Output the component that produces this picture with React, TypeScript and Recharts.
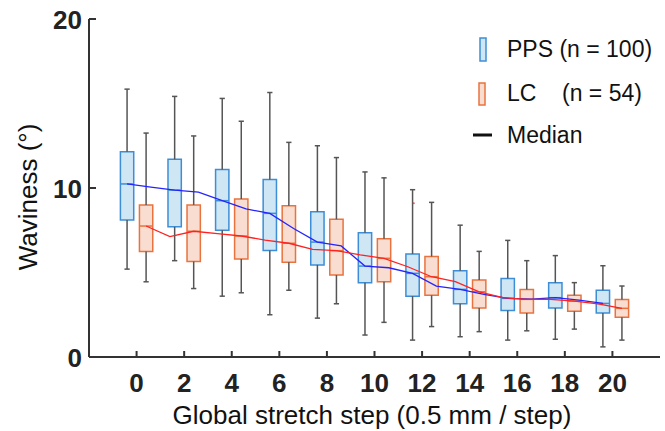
import React from 'react'
import {
  ComposedChart,
  Line,
  Scatter,
  XAxis,
  YAxis,
  ReferenceArea,
  ReferenceLine,
  Legend
} from 'recharts'

const steps = [0, 2, 4, 6, 8, 10, 12, 14, 16, 18, 20]
const yTicks = [0, 10, 20]

// PPS (n = 100) box stats
const ppsMin = [5.2, 5.7, 3.6, 2.5, 2.3, 1.3, 1.0, 1.2, 1.0, 1.05, 0.6]
const ppsQ1 = [8.1, 7.7, 7.5, 6.3, 5.45, 4.4, 3.6, 3.15, 2.75, 2.9, 2.6]
const ppsMed = [10.24, 9.88, 9.25, 8.5, 6.8, 5.38, 4.95, 4.0, 3.47, 3.51, 3.17]
const ppsQ3 = [12.15, 11.7, 11.1, 10.5, 8.6, 7.35, 6.1, 5.1, 4.65, 4.4, 3.95]
const ppsMax = [15.85, 15.42, 15.3, 15.65, 12.5, 10.95, 9.9, 7.8, 6.9, 6.0, 5.4]

// LC (n = 54) box stats
const lcMin = [4.45, 4.05, 3.8, 3.95, 3.15, 2.05, 1.8, 1.5, 1.55, 1.65, 1.0]
const lcQ1 = [6.25, 5.65, 5.8, 5.6, 4.85, 4.45, 3.65, 2.9, 2.6, 2.7, 2.35]
const lcMed = [7.75, 7.44, 7.16, 6.73, 6.29, 5.84, 4.75, 3.86, 3.41, 3.31, 2.88]
const lcQ3 = [9.0, 9.0, 9.35, 8.95, 8.15, 7.0, 5.95, 4.55, 4.0, 3.65, 3.4]
const lcMax = [13.25, 13.08, 13.95, 12.7, 11.8, 10.6, 9.15, 6.25, 5.7, 4.4, 4.2]

// median traces, one value per stretch step 0..20
const lineSteps = [0, 1, 2, 3, 4, 5, 6, 7, 8, 9, 10, 11, 12, 13, 14, 15, 16, 17, 18, 19, 20]
const ppsLine = [10.24, 10.05, 9.88, 9.76, 9.25, 8.76, 8.5, 7.6, 6.8, 6.57, 5.38, 5.28, 4.95, 4.2, 4.0, 3.71, 3.47, 3.43, 3.51, 3.37, 3.17]
const lcLine = [7.75, 7.12, 7.44, 7.3, 7.16, 6.92, 6.73, 6.37, 6.29, 6.04, 5.84, 5.34, 4.75, 4.46, 3.86, 3.51, 3.41, 3.41, 3.31, 3.14, 2.88]

const outliers = [{ x: 11.65, y: 9.1 }]

const OFFSET = 0.4
const HALF = 0.28
const CAP = 0.11
const FONT = '"Liberation Sans", Arial, sans-serif'
const AXIS = '#333'
const WHISKER = '#555'

const series = [
  { key: 'pps', dx: -OFFSET, min: ppsMin, q1: ppsQ1, med: ppsMed, q3: ppsQ3, max: ppsMax, fill: '#cfe6f5', stroke: '#3d8ed6' },
  { key: 'lc', dx: OFFSET, min: lcMin, q1: lcQ1, med: lcMed, q3: lcQ3, max: lcMax, fill: '#f9ddd0', stroke: '#e8733f' }
]

const ppsLineData = lineSteps.map((s, i) => ({ x: s - OFFSET, y: ppsLine[i] }))
const lcLineData = lineSteps.map((s, i) => ({ x: s + OFFSET, y: lcLine[i] }))

const YTick = (props: any) => {
  const { x, y, payload } = props
  return (
    <g>
      <line x1={x + 7} x2={x + 14} y1={y} y2={y} stroke={AXIS} strokeWidth={2} />
      <text x={x} y={y + 10} textAnchor="end" fontFamily={FONT} fontWeight="bold" fontSize={26} fill="#222">
        {payload.value}
      </text>
    </g>
  )
}

const XTick = (props: any) => {
  const { x, y, payload } = props
  return (
    <g>
      <line x1={x} x2={x} y1={y} y2={y - 6} stroke={AXIS} strokeWidth={2} />
      <text x={x} y={y + 35} textAnchor="middle" fontFamily={FONT} fontWeight="bold" fontSize={26} fill="#222">
        {payload.value}
      </text>
    </g>
  )
}

const LegendBox = () => (
  <svg width={205} height={140} style={{ fontFamily: FONT }}>
    <rect x={20} y={18} width={6} height={23} fill="#cfe6f5" stroke="#3d8ed6" strokeWidth={1.5} />
    <text x={47} y={37} fontSize={23} fill="#111">PPS (n = 100)</text>
    <rect x={19} y={63} width={6} height={22} fill="#f9ddd0" stroke="#e8733f" strokeWidth={1.5} />
    <text x={47} y={81} fontSize={23} fill="#111">LC</text>
    <text x={102} y={81} fontSize={23} fill="#111">(n = 54)</text>
    <line x1={13} x2={32} y1={115} y2={115} stroke="#111" strokeWidth={3} />
    <text x={47} y={123} fontSize={23} fill="#111">Median</text>
  </svg>
)

const App = () => {
  return (
    <div style={{ position: 'absolute', left: 0, top: 0, background: '#fff' }}>
      <ComposedChart width={665} height={431} margin={{ top: 19, right: 5, left: 0, bottom: 0 }}>
        <XAxis
          dataKey="x"
          type="number"
          domain={[-2, 22]}
          ticks={steps}
          allowDataOverflow
          height={74}
          tickSize={0}
          tickMargin={0}
          tickLine={false}
          tick={<XTick />}
          axisLine={{ stroke: AXIS, strokeWidth: 2 }}
          label={({ viewBox }: any) => (
            <text x={372} y={viewBox.y + 67} textAnchor="middle" fontFamily={FONT} fontSize={26} fill="#111">
              Global stretch step (0.5 mm / step)
            </text>
          )}
        />
        <YAxis
          type="number"
          domain={[0, 20]}
          ticks={yTicks}
          width={89}
          tickSize={0}
          tickMargin={7}
          tickLine={false}
          tick={<YTick />}
          axisLine={{ stroke: AXIS, strokeWidth: 2 }}
          label={() => (
            <text x={37} y={197} transform="rotate(-90, 37, 197)" textAnchor="middle" fontFamily={FONT} fontSize={26} fill="#111">
              Waviness (°)
            </text>
          )}
        />
        {series.map(s =>
          steps.map((st, i) => {
            const cx = st + s.dx
            return (
              <React.Fragment key={`${s.key}-${st}`}>
                <ReferenceLine segment={[{ x: cx, y: s.min[i] }, { x: cx, y: s.q1[i] }]} stroke={WHISKER} strokeWidth={1.5} />
                <ReferenceLine segment={[{ x: cx, y: s.q3[i] }, { x: cx, y: s.max[i] }]} stroke={WHISKER} strokeWidth={1.5} />
                <ReferenceLine segment={[{ x: cx - CAP, y: s.min[i] }, { x: cx + CAP, y: s.min[i] }]} stroke={WHISKER} strokeWidth={1.5} />
                <ReferenceLine segment={[{ x: cx - CAP, y: s.max[i] }, { x: cx + CAP, y: s.max[i] }]} stroke={WHISKER} strokeWidth={1.5} />
                <ReferenceArea x1={cx - HALF} x2={cx + HALF} y1={s.q1[i]} y2={s.q3[i]} fill={s.fill} fillOpacity={1} stroke={s.stroke} strokeWidth={1.5} />
                <ReferenceLine segment={[{ x: cx - HALF, y: s.med[i] }, { x: cx + HALF, y: s.med[i] }]} stroke={s.stroke} strokeWidth={1.5} />
              </React.Fragment>
            )
          })
        )}
        <Line data={ppsLineData} dataKey="y" type="linear" stroke="#2424ff" strokeWidth={1.3} dot={false} isAnimationActive={false} />
        <Line data={lcLineData} dataKey="y" type="linear" stroke="#ff2222" strokeWidth={1.3} dot={false} isAnimationActive={false} />
        <Scatter
          data={outliers}
          dataKey="y"
          isAnimationActive={false}
          shape={(p: any) => <circle cx={p.cx} cy={p.cy} r={1} fill="#f44" />}
        />
        <Legend
          layout="vertical"
          align="center"
          verticalAlign="middle"
          wrapperStyle={{ left: 460, top: 20, width: 205, height: 140 }}
          content={() => <LegendBox />}
        />
      </ComposedChart>
    </div>
  )
}

export default App
